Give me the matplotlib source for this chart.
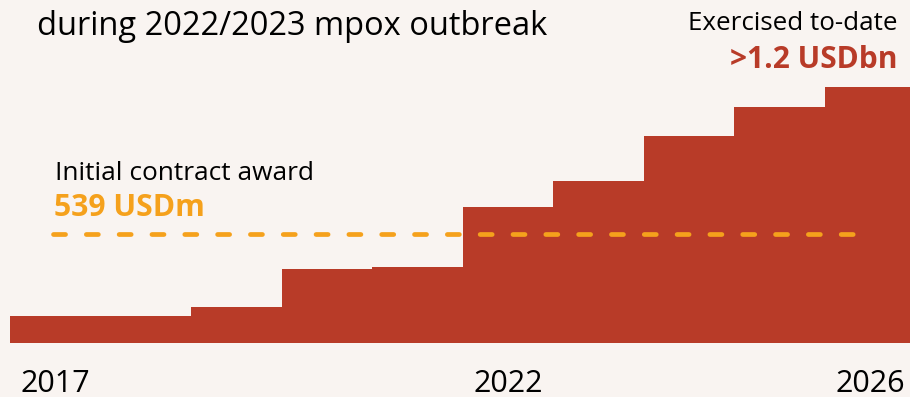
import numpy as np
import matplotlib
matplotlib.use('Agg')
import matplotlib.pyplot as plt

# contract value exercised by year, USDm
years = [2017, 2018, 2019, 2020, 2021, 2022, 2023, 2024, 2025, 2026]
values = [134, 134, 178, 366, 376, 673, 801, 1024, 1167, 1266]
initial_award = 539
year_labels = ['2017', '2022', '2026']

bg = '#f9f4f1'
red = '#b83b28'
orange = '#f5a11c'

plt.rcParams['font.family'] = ['Open Sans', 'DejaVu Sans']

fig = plt.figure(figsize=(9.1, 3.97), dpi=100, facecolor=bg)
ax = fig.add_axes([0, 0, 1, 1])
ax.set_facecolor(bg)

edges = np.append(np.array(years) - 0.5, years[-1] + 0.5)
ax.stairs(values, edges, fill=True, color=red, baseline=0)

ax.plot([2016.975, 2025.826], [initial_award, initial_award], color=orange,
        lw=3.4, dashes=(2.55, 4.4), dash_capstyle='round')

ax.set_xlim(2016.39, 2026.44)
ax.set_ylim(-267, 1696)
ax.axis('off')

H = 397.0
def fy(p):
    return (H - p) / H

fig.text(37/910, fy(35), 'during 2022/2023 mpox outbreak', fontsize=23.5,
         ha='left', va='baseline', color='black')
fig.text(898/910, fy(30), 'Exercised to-date', fontsize=18.7,
         ha='right', va='baseline', color='black')
fig.text(898/910, fy(68), '>1.2 USDbn', fontsize=21.5, fontweight='bold',
         ha='right', va='baseline', color=red)
fig.text(55/910, fy(180), 'Initial contract award', fontsize=18.9,
         ha='left', va='baseline', color='black')
fig.text(54/910, fy(216), '539 USDm', fontsize=21.7, fontweight='bold',
         ha='left', va='baseline', color=orange)

for lab in year_labels:
    ax.text(int(lab), -267 + (397 - 392) * 4.945, lab, fontsize=22,
            ha='center', va='baseline', color='black')

fig.savefig('out.png', dpi=100, facecolor=bg)
